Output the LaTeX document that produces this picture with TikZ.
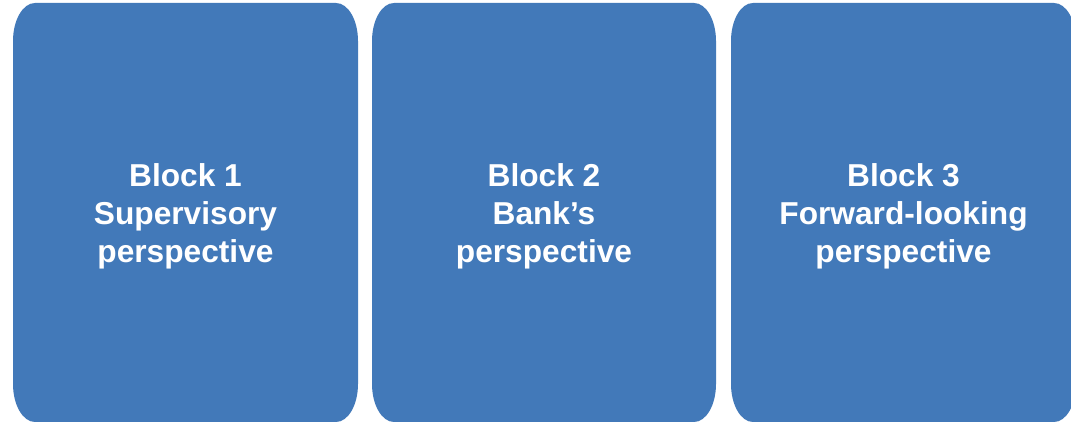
\documentclass[tikz,border=0pt]{standalone}
\usepackage{fontspec}
\setmainfont{Liberation Sans}
\definecolor{blockblue}{RGB}{66,121,185}
\newcommand{\blockshape}[4]{% x0 y0 x1 y1
  \fill[blockblue] ({#1+22},#2) -- ({#3-22},#2)
    arc[start angle=-90,end angle=0,x radius=22,y radius=38] -- (#3,{#4-38})
    arc[start angle=0,end angle=90,x radius=22,y radius=38] -- ({#1+22},#4)
    arc[start angle=90,end angle=180,x radius=22,y radius=38] -- (#1,{#2+38})
    arc[start angle=180,end angle=270,x radius=22,y radius=38] -- cycle;}
\tikzset{blocktext/.style={text=white,font=\bfseries\fontsize{31.8}{38.1}\selectfont,align=center,inner sep=0pt}}
\begin{document}
\begin{tikzpicture}[x=1bp,y=1bp]
\useasboundingbox (0,0) rectangle (1071,421);
\clip (0,0) rectangle (1071,421);
\blockshape{13}{-1}{358}{418}
\blockshape{372}{-1}{716}{418}
\blockshape{731}{-1}{1076}{418}
\node[blocktext] (b1) at (185.5,205) {Block 1\\Supervisory\\perspective};
\node[blocktext] (b2) at (544,205) {Block 2\\Bank’s\\perspective};
\node[blocktext] (b3) at (903.5,205) {Block 3\\Forward-looking\\perspective};
\end{tikzpicture}
\end{document}
